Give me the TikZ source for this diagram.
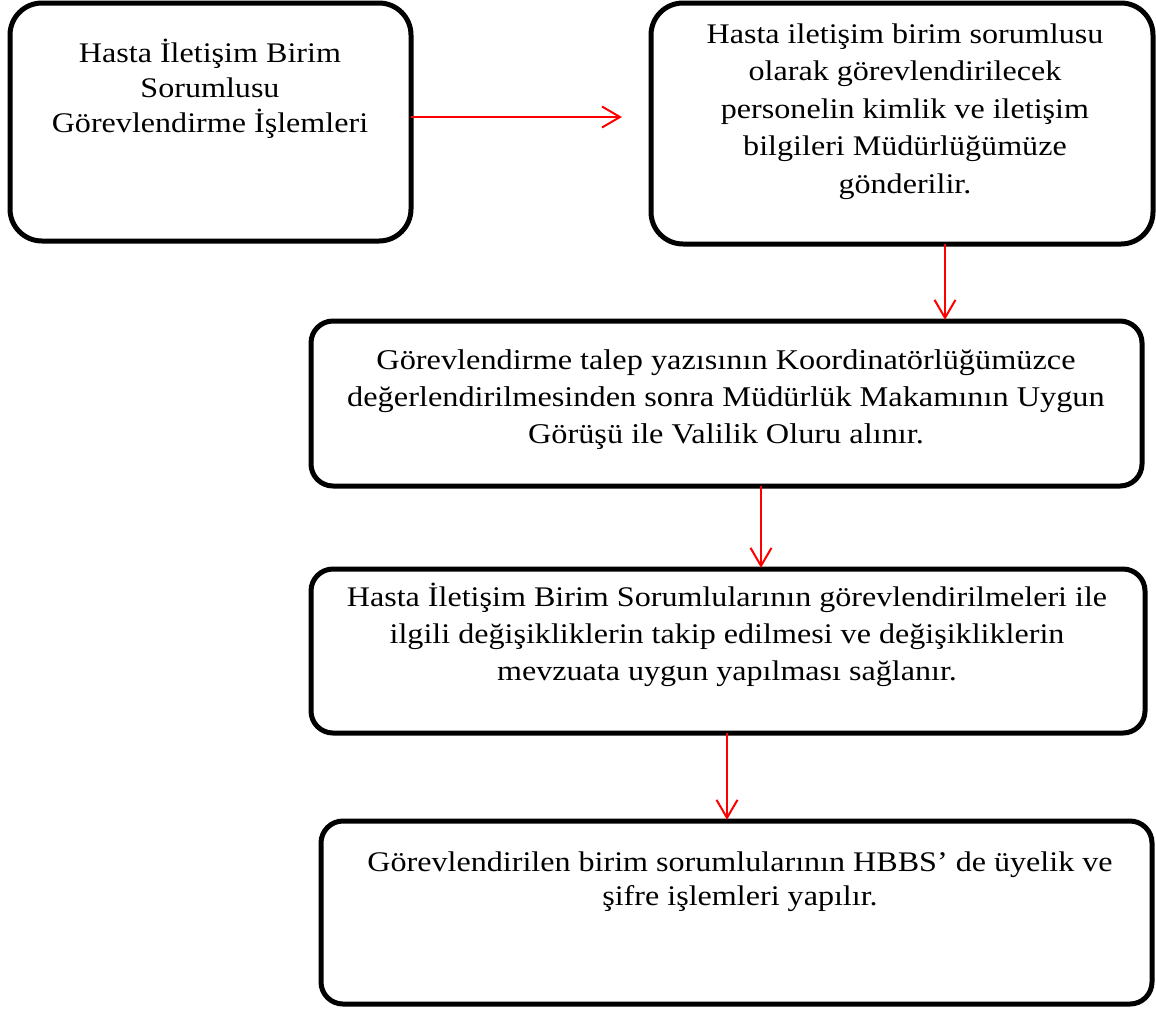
\documentclass[tikz,border=0pt]{standalone}
\usepackage{fontspec}
\setmainfont{Liberation Serif}[FakeStretch=1.13]
\usetikzlibrary{arrows.meta}
\begin{document}
\begin{tikzpicture}[x=0.5pt,y=-0.5pt,
  box/.style={draw=black,line width=2.5pt,inner sep=0pt,outer sep=0pt,fill=white},
  bigr/.style={rounded corners=16pt},
  smallr/.style={rounded corners=11pt},
  txt/.style={align=center,inner sep=0pt,anchor=base},
  arr/.style={draw=red,line width=1pt,-{Straight Barb[length=9pt,width=10.5pt]}}
]
\useasboundingbox (0,0) rectangle (1156,1008);
% boxes
\node[box,bigr,minimum width=200.5pt,minimum height=119pt] (b1) at (210.5,122) {};
\node[box,bigr,minimum width=251pt,minimum height=120.5pt] (b2) at (902,123.5) {};
\node[box,smallr,minimum width=415.5pt,minimum height=82.5pt] (b3) at (726.5,403.5) {};
\node[box,smallr,minimum width=417pt,minimum height=82pt] (b4) at (728,651) {};
\node[box,smallr,minimum width=415.5pt,minimum height=91.5pt] (b5) at (736.5,912.5) {};
% texts (anchor base = last line)
\node[txt,font=\fontsize{14.2}{17.5}\selectfont] (t1) at (210,132) {Hasta İletişim Birim\\Sorumlusu\\Görevlendirme İşlemleri};
\node[txt,font=\fontsize{14.2}{18.75}\selectfont] (t2) at (905,193) {Hasta iletişim birim sorumlusu\\olarak görevlendirilecek\\personelin kimlik ve iletişim\\bilgileri Müdürlüğümüze\\gönderilir.};
\node[txt,font=\fontsize{14.3}{18.3}\selectfont] (t3) at (726,443) {Görevlendirme talep yazısının Koordinatörlüğümüzce\\değerlendirilmesinden sonra Müdürlük Makamının Uygun\\Görüşü ile Valilik Oluru alınır.};
\node[txt,font=\fontsize{14.2}{18.3}\selectfont] (t4) at (727,680) {Hasta İletişim Birim Sorumlularının görevlendirilmeleri ile\\ilgili değişikliklerin takip edilmesi ve değişikliklerin\\mevzuata uygun yapılması sağlanır.};
\node[txt,font=\fontsize{14.2}{17}\selectfont] (t5) at (740,905) {Görevlendirilen birim sorumlularının HBBS’ de üyelik ve\\şifre işlemleri yapılır.};
% connector helpers
\coordinate (e1) at (622,117);
\coordinate (x2) at (945,0);
\coordinate (x3) at (761,0);
\coordinate (x4) at (727,0);
% arrows
\draw[arr] (b1.east |- e1) -- (e1);
\draw[arr] (b2.south -| x2) -- ([yshift=0.6pt]b3.north -| x2);
\draw[arr] (b3.south -| x3) -- ([yshift=0.6pt]b4.north -| x3);
\draw[arr] (b4.south -| x4) -- ([yshift=0.6pt]b5.north -| x4);
\end{tikzpicture}
\end{document}
